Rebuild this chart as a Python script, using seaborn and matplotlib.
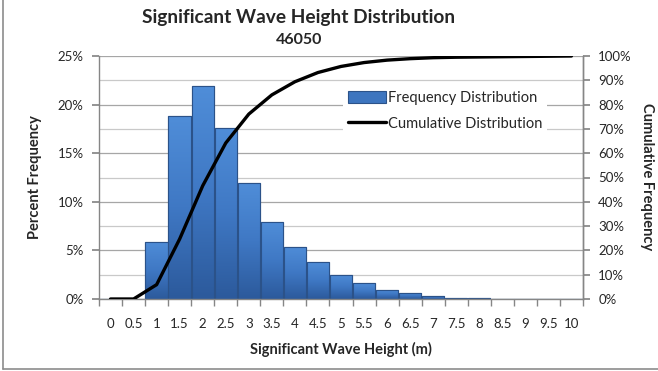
import numpy as np
import pandas as pd
import matplotlib
matplotlib.use("Agg")
import matplotlib.pyplot as plt
import seaborn as sns
from matplotlib.patches import Patch, Rectangle
from matplotlib.lines import Line2D
from matplotlib.colors import LinearSegmentedColormap
from matplotlib.ticker import FixedLocator, FuncFormatter

# ---- data ----
categories = ["0", "0.5", "1", "1.5", "2", "2.5", "3", "3.5", "4", "4.5", "5",
              "5.5", "6", "6.5", "7", "7.5", "8", "8.5", "9", "9.5", "10"]
frequency = [0.05, 0.0, 5.9, 18.8, 21.9, 17.6, 11.9, 7.9, 5.4, 3.8, 2.5,
             1.6, 0.95, 0.65, 0.35, 0.15, 0.15, 0.05, 0.05, 0.03, 0.02]
cumulative = [0.0, 0.0, 5.9, 24.7, 46.6, 64.2, 76.1, 84.0, 89.4, 93.2, 95.7,
              97.3, 98.3, 98.9, 99.3, 99.5, 99.6, 99.7, 99.8, 99.9, 100.0]
left_ticks = [0, 5, 10, 15, 20, 25]
right_ticks = [0, 10, 20, 30, 40, 50, 60, 70, 80, 90, 100]

sns.set_theme(style="white")
plt.rcParams["font.family"] = ["Lato", "DejaVu Sans"]

W, H = 658, 371
fig = plt.figure(figsize=(W / 100, H / 100), dpi=100)
ax = fig.add_axes([99 / W, 1 - 299 / H, (583 - 99) / W, (299 - 56) / H])

df = pd.DataFrame({"cat": categories, "freq": frequency})
bar_color = "#3D75BF"
sns.barplot(data=df, x="cat", y="freq", order=categories, ax=ax, color=bar_color,
            width=0.97, edgecolor="#2B5289", linewidth=0.8, saturation=1, zorder=2)

ax.set_xlim(-0.5, len(categories) - 0.5)
ax.set_ylim(0, 25)

# gradient fill on bars
cmap = LinearSegmentedColormap.from_list("g", ["#2C5A9C", "#3F78C4", "#4F8DD8"])
grad = np.linspace(0, 1, 64).reshape(-1, 1)
for p in list(ax.patches):
    x0, y0 = p.get_x(), p.get_y()
    w, h = p.get_width(), p.get_height()
    if h <= 0:
        continue
    im = ax.imshow(grad, extent=[x0, x0 + w, y0, y0 + h], origin="lower",
                   cmap=cmap, aspect="auto", zorder=2.1, interpolation="bilinear")
    im.set_clip_path(p)
    p2 = Rectangle((x0, y0), w, h, fill=False, edgecolor="#2B5289", lw=0.8, zorder=2.2)
    ax.add_patch(p2)
ax.set_xlim(-0.5, len(categories) - 0.5)
ax.set_ylim(0, 25)

# grid
ax.set_axisbelow(True)
ax.yaxis.set_major_locator(FixedLocator(left_ticks))
ax.yaxis.set_minor_locator(FixedLocator(np.arange(2.5, 25, 5)))
ax.yaxis.grid(True, which="major", color="#A6A6A6", lw=0.9)
ax.yaxis.grid(True, which="minor", color="#C9C9C9", lw=0.9)
ax.yaxis.set_major_formatter(FuncFormatter(lambda v, p: f"{v:.0f}%"))
ax.tick_params(axis="y", which="major", direction="out", length=5, color="#868686",
               labelsize=9.5, pad=6, left=True)
ax.tick_params(axis="y", which="minor", length=0)

# x ticks: labels centered, tick marks at category boundaries
ax.set_xticks(range(len(categories)))
ax.set_xticklabels(categories)
ax.xaxis.set_minor_locator(FixedLocator(np.arange(-0.5, len(categories), 1)))
ax.tick_params(axis="x", which="major", length=0, labelsize=9.5, pad=14)
ax.tick_params(axis="x", which="minor", direction="out", length=5, color="#868686",
               bottom=True)
ax.set_xlabel("")
ax.set_ylabel("")

for s in ["top"]:
    ax.spines[s].set_visible(False)
for s in ["left", "right", "bottom"]:
    ax.spines[s].set_color("#868686")
    ax.spines[s].set_linewidth(1.0)

# cumulative line on secondary axis
ax2 = ax.twinx()
sns.lineplot(x=np.arange(len(categories)), y=cumulative, ax=ax2, color="black",
             lw=2.4, zorder=5)
ax2.set_ylim(0, 100)
ax2.set_xlim(-0.5, len(categories) - 0.5)
ax2.set_yticks(right_ticks)
ax2.yaxis.set_major_formatter(FuncFormatter(lambda v, p: f"{v:.0f}%"))
ax2.tick_params(axis="y", direction="out", length=5, color="#868686", labelsize=9.5,
                pad=6, right=True)
ax2.set_ylabel("")
for s in ["top", "left", "bottom"]:
    ax2.spines[s].set_visible(False)
ax2.spines["right"].set_color("#868686")
ax2.spines["right"].set_linewidth(1.0)

handles = [Patch(facecolor=bar_color, edgecolor="#2B5289", lw=0.8),
           Line2D([0], [0], color="black", lw=2.4)]
leg = ax2.legend(handles, ["Frequency Distribution", "Cumulative Distribution"],
                 loc="upper left", bbox_to_anchor=(0.505, 0.875), frameon=True,
                 fontsize=10.5, handlelength=2.6, handleheight=0.9,
                 handletextpad=0.15, labelspacing=0.8, borderpad=0.3,
                 borderaxespad=0)
leg.get_frame().set_facecolor("white")
leg.get_frame().set_edgecolor("none")
leg.get_frame().set_alpha(1)

# titles and labels
fig.text(299 / W, 1 - 18 / H, "Significant Wave Height Distribution",
         ha="center", va="center", fontsize=13.8, fontweight="bold")
fig.text(299 / W, 1 - 40 / H, "46050", ha="center", va="center",
         fontsize=11.5, fontweight="bold")
fig.text(35 / W, 1 - 177 / H, "Percent Frequency", rotation=90, ha="center",
         va="center", fontsize=10.5, fontweight="bold")
fig.text(647 / W, 1 - 177 / H, "Cumulative Frequency", rotation=270, ha="center",
         va="center", fontsize=10.5, fontweight="bold")
fig.text(341 / W, 1 - 349 / H, "Significant Wave Height (m)", ha="center",
         va="center", fontsize=10.5, fontweight="bold")

# chart border (left and bottom edges visible)
fig.add_artist(Line2D([3 / W, 3 / W], [2 / H, 1.0], transform=fig.transFigure,
                      color="#8C8C8C", lw=1.2))
fig.add_artist(Line2D([3 / W, 1.0], [2 / H, 2 / H], transform=fig.transFigure,
                      color="#8C8C8C", lw=1.2))

fig.savefig("out.png", dpi=100, facecolor="white")
